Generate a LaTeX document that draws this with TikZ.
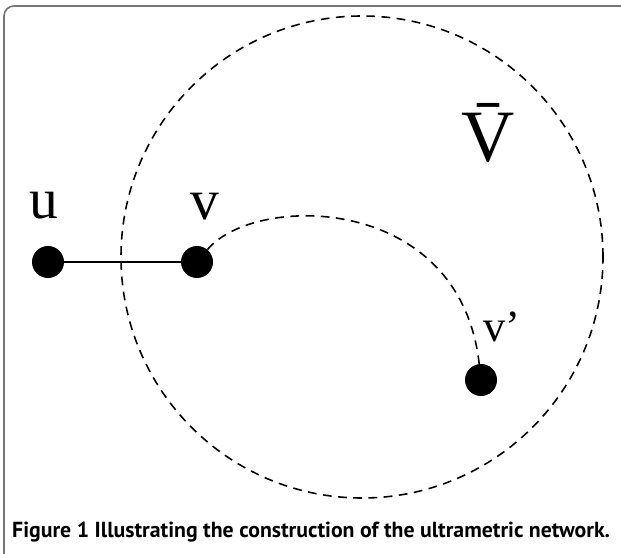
\documentclass[tikz,border=0pt]{standalone}
\usepackage{fontspec}
\setmainfont{Liberation Serif}
\newfontfamily\capfont{PT Sans}
\usepackage{xcolor}
\usetikzlibrary{positioning}
\definecolor{ink}{HTML}{000000}
\definecolor{framegray}{HTML}{767676}
\tikzset{
  vertex/.style={circle,minimum size=0.96cm,inner sep=0pt,fill=ink},
  vlabel/.style={font=\fontsize{49}{49}\selectfont,text=ink,inner sep=0pt},
  dashline/.style={dash pattern=on 7.5pt off 5.5pt,line width=1.35pt,color=ink},
  edge/.style={line width=1.4pt,color=ink},
  frameline/.style={draw=framegray,line width=1.4pt,rounded corners=0.3cm},
}

\begin{document}
\begin{tikzpicture}[x=0.03cm,y=0.03cm]
  \useasboundingbox (0,0) rectangle (621,553);
  \draw[frameline] (4,-20) |- (640,547);
  % the set V-bar
  \coordinate (vbar) at (362,296);
  \draw[dashline] (vbar) circle[radius=241];
  \node[vertex] (u) at (48,291) {};
  \node[vertex] (v) at (197,291) {};
  \node[vertex] (vp) at (481,173) {};
  \draw[edge] (u) -- (v);
  \draw[dashline] (v) .. controls (255,360) and (460,360) .. (vp);
  \node[vlabel] (ulab) at (44,347) {u};
  \node[vlabel] (vlab) at (205,346) {v};
  \node[vlabel,font=\fontsize{38}{38}\selectfont] (vplab) at (502,226) {v’};
  \node[vlabel,font=\fontsize{63}{63}\selectfont] (vbarlab) at (488,420) {V̄};
  \node[font=\capfont\bfseries\fontsize{18.6}{22}\selectfont,anchor=base west,inner sep=0pt] (caption) at (12,16)
    {Figure 1 Illustrating the construction of the ultrametric network.};
\end{tikzpicture}
\end{document}
